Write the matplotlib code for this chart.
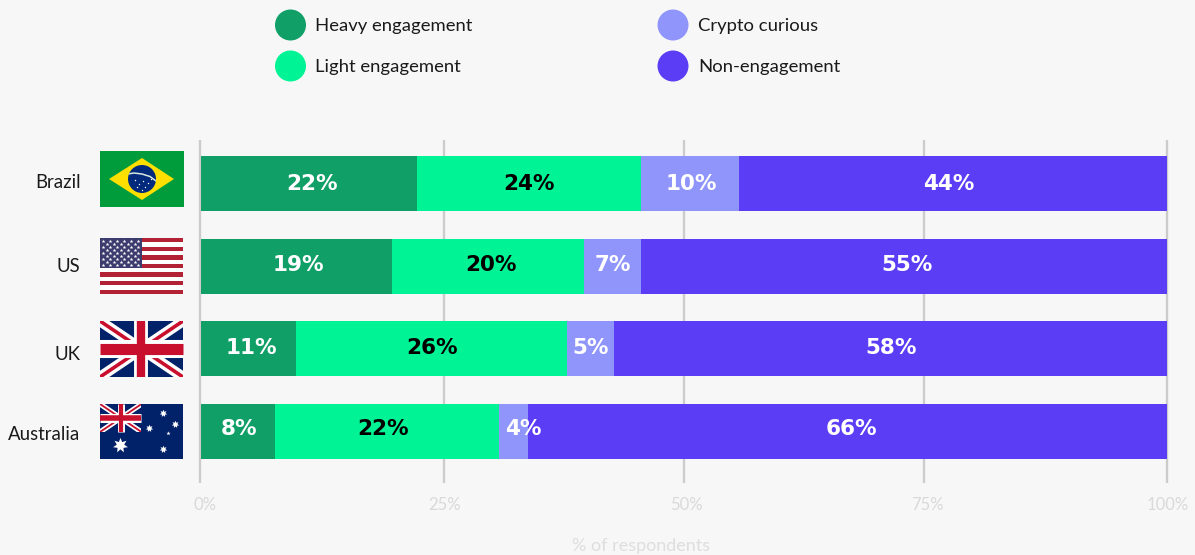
#!/usr/bin/env python3
"""Stacked bars of crypto engagement by country, flags drawn by hand."""
import matplotlib
matplotlib.use("Agg")
import matplotlib.pyplot as plt
import matplotlib.patches as patches
from matplotlib.transforms import ScaledTranslation

countries = ["Brazil", "US", "UK", "Australia"]
series_names = ["Heavy engagement", "Light engagement", "Crypto curious", "Non-engagement"]
heavy = [22.4, 19.8, 9.8, 7.7]
light = [23.2, 19.8, 28.1, 23.2]
curious = [10.1, 6.0, 4.9, 2.9]
non_eng = [44.3, 54.4, 57.2, 66.2]
heavy_labels = ["22%", "19%", "11%", "8%"]
light_labels = ["24%", "20%", "26%", "22%"]
curious_labels = ["10%", "7%", "5%", "4%"]
non_labels = ["44%", "55%", "58%", "66%"]
tick_values = [-0.1, 25.15, 50, 74.85, 100]
tick_labels = ["0%", "25%", "50%", "75%", "100%"]

colors = ["#0F9F67", "#00F495", "#8F95FA", "#5B3DF6"]
label_colors = ["white", "black", "white", "white"]
BG = "#F7F7F7"
DPI = 100
W, H = 1195, 555

# label nudges in pixels, the labels are not quite centred in the original
nudge_x = [[3, -1, 1, -4], [2, 3, 0, 3], [3, 1, 0, 0], [1, -4, 10, 4]]
nudge_y = [0, 1, 1, 3]
tick_nudge = [5, 1, 2, 3, 1]

plt.rcParams["font.family"] = ["Lato", "DejaVu Sans"]


def px_box(left, top, right, bottom):
    return [left / W, 1 - bottom / H, (right - left) / W, (bottom - top) / H]


def union_jack(ov, x, y, w, h, lw=1.0):
    clip = patches.Rectangle((x, y), w, h, transform=ov.transData)
    ov.add_patch(patches.Rectangle((x, y), w, h, fc="#012169", ec="none"))
    for (x0, y0, x1, y1) in [(x, y, x + w, y + h), (x, y + h, x + w, y)]:
        ln, = ov.plot([x0, x1], [y0, y1], color="white", lw=7.5 * lw, solid_capstyle="butt")
        ln.set_clip_path(clip)
        ln, = ov.plot([x0, x1], [y0, y1], color="#C8102E", lw=2.6 * lw, solid_capstyle="butt")
        ln.set_clip_path(clip)
    ov.plot([x, x + w], [y + h / 2] * 2, color="white", lw=13 * lw, solid_capstyle="butt")
    ov.plot([x + w / 2] * 2, [y, y + h], color="white", lw=10 * lw, solid_capstyle="butt")
    ov.plot([x, x + w], [y + h / 2] * 2, color="#C8102E", lw=8 * lw, solid_capstyle="butt")
    ov.plot([x + w / 2] * 2, [y, y + h], color="#C8102E", lw=6 * lw, solid_capstyle="butt")


def draw_flags(ov):
    # Brazil
    ov.add_patch(patches.Rectangle((100, 151), 84, 56, fc="#009B3A", ec="none"))
    ov.add_patch(patches.Polygon([(109, 179), (142, 158), (174, 179), (142, 200)], fc="#FEDF00", ec="none"))
    globe = patches.Circle((142, 179), 14, fc="#012A7C", ec="none")
    ov.add_patch(globe)
    arc, = ov.plot([128, 134, 142, 150, 156], [174, 173, 174, 176.5, 181], color="#D8E8E0", lw=1.1)
    arc.set_clip_path(globe)
    ov.scatter([135, 139, 143, 148, 151, 137, 145, 142], [180, 184, 181, 183, 179, 187, 187, 190],
               s=1, c="white", linewidths=0)

    # US
    for i in range(13):
        c = "#B22234" if i % 2 == 0 else "white"
        ov.add_patch(patches.Rectangle((100, 238 + i * 56 / 13), 83, 56 / 13 + 0.2, fc=c, ec="none"))
    ov.add_patch(patches.Rectangle((100, 238), 42, 30, fc="#3C3B6E", ec="none"))
    for row in range(9):
        n = 6 if row % 2 == 0 else 5
        off = 103.5 if row % 2 == 0 else 107
        ov.scatter([off + 7 * k for k in range(n)], [240.5 + row * 3.1] * n,
                   s=8, c="white", marker="*", linewidths=0)

    # UK
    union_jack(ov, 100, 321, 83, 56)

    # Australia
    ov.add_patch(patches.Rectangle((100, 404), 83, 55, fc="#012169", ec="none"))
    union_jack(ov, 100, 404, 41.5, 28, lw=0.5)
    seven = (7, 1, 0)
    ov.scatter([120.5], [445], s=120, c="white", marker=seven, linewidths=0)
    ov.scatter([163, 149.5, 175, 163], [413, 428, 424, 449], s=30, c="white", marker=seven, linewidths=0)
    ov.scatter([168.5], [433], s=10, c="white", marker="*", linewidths=0)


def main():
    fig = plt.figure(figsize=(W / DPI, H / DPI), dpi=DPI, facecolor=BG)
    ax = fig.add_axes(px_box(198, 140, 1172, 483), facecolor=BG)
    ax.set_xlim((198 - 201) / 9.66, (1172 - 201) / 9.66)
    row_gap = 82.67
    ax.set_ylim((483 - 183.5) / row_gap, (140 - 183.5) / row_gap)

    all_series = [heavy, light, curious, non_eng]
    all_labels = [heavy_labels, light_labels, curious_labels, non_labels]
    ys = list(range(len(countries)))
    left = [0.0] * len(countries)
    for s, (vals, labs) in enumerate(zip(all_series, all_labels)):
        ax.barh(ys, vals, height=55 / row_gap, left=left, color=colors[s], zorder=3, linewidth=0)
        for i, y in enumerate(ys):
            ax.annotate(labs[i], (left[i] + vals[i] / 2, y),
                        xytext=(nudge_x[i][s] * 0.72, nudge_y[i] * 0.72), textcoords="offset points",
                        ha="center", va="center", color=label_colors[s], fontsize=15.5,
                        fontweight="bold", family="DejaVu Sans", zorder=4)
        left = [a + b for a, b in zip(left, vals)]

    ax.set_xticks(tick_values)
    ax.set_xticklabels(tick_labels, fontsize=12, color="#D9D9D9")
    ax.tick_params(axis="x", length=0, pad=10)
    for lbl, n in zip(ax.get_xticklabels(), tick_nudge):
        shift = ScaledTranslation(n * 0.72 / 72, 0, fig.dpi_scale_trans)
        lbl.set_transform(lbl.get_transform() + shift)
    ax.grid(axis="x", color="#CCCCCC", lw=1.7, zorder=0)
    ax.set_axisbelow(True)
    ax.set_yticks(ys)
    ax.set_yticklabels([])
    ax.tick_params(axis="y", length=0)
    for sp in ax.spines.values():
        sp.set_visible(False)
    ax.set_xlabel("% of respondents", fontsize=13, color="#DEDEDE")
    ax.xaxis.set_label_coords((641 - 198) / 974, -(546 - 483) / 343, transform=ax.transAxes)
    ax.xaxis.label.set_va("center")

    # overlay in pixel coordinates for legend, flags and country names
    ov = fig.add_axes([0, 0, 1, 1], facecolor="none")
    ov.set_xlim(0, W)
    ov.set_ylim(H, 0)
    ov.axis("off")

    spots = [(290.5, 25), (290.5, 66), (673, 25), (673, 66)]
    for (cx, cy), name, c in zip(spots, series_names, colors):
        ov.add_patch(patches.Circle((cx, cy), 15.5, fc=c, ec="none"))
        ov.text(cx + 25, cy + 1, name, va="center", ha="left", fontsize=13.3, color="#1A1A1A")

    draw_flags(ov)
    for name, cy in zip(countries, [182, 267, 354, 435]):
        ov.text(80.5, cy, name, va="center", ha="right", fontsize=13.4, color="#1A1A1A")

    fig.savefig("out.png", dpi=DPI, facecolor=BG)
    plt.close(fig)


if __name__ == "__main__":
    main()
